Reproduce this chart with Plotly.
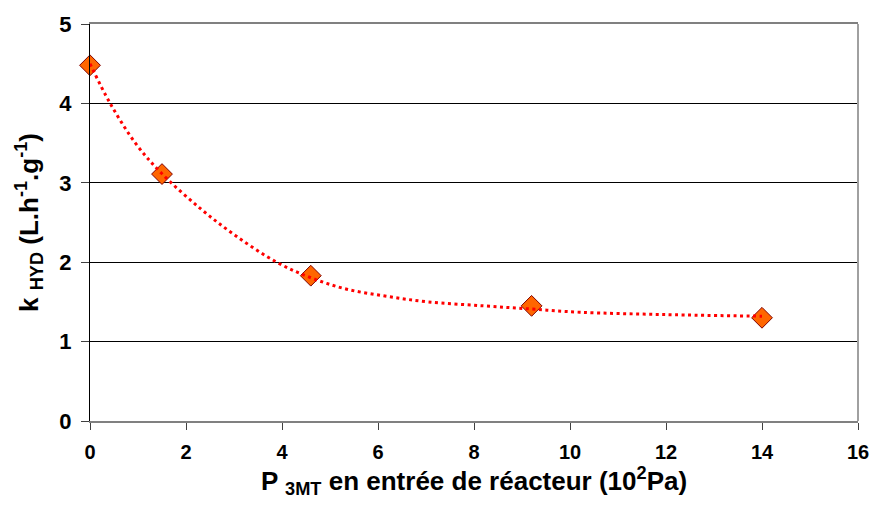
import plotly.graph_objects as go

# measured points
p_3mt = [0, 1.5, 4.6, 9.2, 14]
k_hyd = [4.48, 3.11, 1.83, 1.45, 1.30]

# trend curve
trend_x = [0, 0.42, 0.97, 1.49, 2.29, 3.02, 3.89, 4.62, 5.35, 6.18, 7.05, 8.2, 9.2, 10.2, 12.0, 14]
trend_y = [4.50, 4.00, 3.48, 3.12, 2.68, 2.34, 2.00, 1.80, 1.66, 1.57, 1.50, 1.45, 1.41, 1.37, 1.34, 1.32]

x_ticks = [0, 2, 4, 6, 8, 10, 12, 14, 16]
y_ticks = [0, 1, 2, 3, 4, 5]

x_title = "<b>P <sub>3MT</sub> en entrée de réacteur (10<sup>2</sup>Pa)</b>"
y_title = "<b>k <sub>HYD</sub> (L.h<sup>-1</sup>.g<sup>-1</sup>)</b>"

FONT = "Liberation Sans, Arial, sans-serif"

fig = go.Figure()
fig.add_trace(go.Scatter(
    x=p_3mt, y=k_hyd, mode="markers",
    marker=dict(symbol="diamond", size=16, color="#FF6600",
                line=dict(color="#800000", width=1)),
    showlegend=False, cliponaxis=False))
fig.add_trace(go.Scatter(
    x=trend_x, y=trend_y, mode="lines", line_shape="spline",
    line=dict(color="#FF0000", width=3, dash="3px,3.5px"),
    showlegend=False))

fig.update_layout(
    width=872, height=505,
    margin=dict(l=90, r=14, t=24, b=84),
    paper_bgcolor="white", plot_bgcolor="white",
    font=dict(family=FONT, color="black", size=20),
    xaxis=dict(
        range=[0, 16], tickvals=x_ticks, ticktext=[f"<b>{v}</b>" for v in x_ticks],
        showgrid=False, zeroline=False, automargin=False,
        showline=True, linecolor="#808080", linewidth=2, mirror=True,
        ticks="outside", ticklen=7, tickcolor="#404040", tickwidth=1,
        tickfont=dict(size=20), ticklabelstandoff=5,
    ),
    yaxis=dict(
        range=[0, 5], tickvals=y_ticks, ticktext=[f"<b>{v}</b>" for v in y_ticks],
        showgrid=True, gridcolor="black", gridwidth=1, zeroline=False, automargin=False,
        showline=True, linecolor="black", linewidth=1,
        ticks="outside", ticklen=8, tickcolor="#404040", tickwidth=1,
        tickfont=dict(size=22), ticklabelstandoff=5,
    ),
    shapes=[dict(type="line", xref="paper", yref="paper", x0=1, x1=1, y0=0, y1=1,
                 line=dict(color="#A0A0A0", width=2))],
    annotations=[
        dict(text=x_title, xref="paper", yref="paper", x=0.5, y=-0.152,
             xanchor="center", yanchor="middle", showarrow=False,
             font=dict(size=26)),
        dict(text=y_title, xref="paper", yref="paper", x=-0.08, y=0.5,
             xanchor="center", yanchor="middle", showarrow=False, textangle=-90,
             font=dict(size=26)),
    ],
)

fig.write_html("out.html", config={"displayModeBar": False},
               post_script="document.body.style.margin='0';document.body.style.padding='0';document.body.style.overflow='hidden';")
